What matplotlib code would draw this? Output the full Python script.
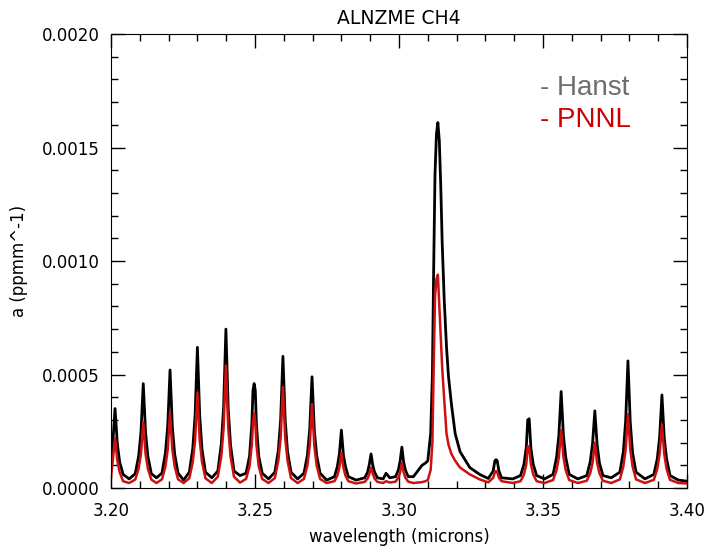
import numpy as np
import matplotlib
matplotlib.use('Agg')
import matplotlib.pyplot as plt
from matplotlib.ticker import MultipleLocator

# wavelength grid (microns), shared by both spectra
wl = [3.2000, 3.2006, 3.2014, 3.2022, 3.2030, 3.2042, 3.2063,
      3.2084, 3.2096, 3.2104, 3.2112, 3.2120, 3.2128, 3.2140, 3.2158,
      3.2177, 3.2189, 3.2197, 3.2205, 3.2213, 3.2221, 3.2233, 3.2252,
      3.2272, 3.2284, 3.2292, 3.2300, 3.2308, 3.2316, 3.2328, 3.2350,
      3.2371, 3.2383, 3.2391, 3.2399, 3.2407, 3.2415, 3.2427, 3.2448,
      3.2469, 3.2481, 3.2489, 3.2493, 3.2497, 3.2501, 3.2505, 3.2513, 3.2525, 3.2547,
      3.2569, 3.2581, 3.2589, 3.2597, 3.2605, 3.2613, 3.2625, 3.2648,
      3.2670, 3.2682, 3.2690, 3.2698, 3.2706, 3.2714, 3.2726, 3.2749,
      3.2776, 3.2786, 3.2793, 3.2800, 3.2807, 3.2814, 3.2824, 3.2851,
      3.2881, 3.2891, 3.2897, 3.2903, 3.2909, 3.2915, 3.2925,
      3.2945, 3.2955, 3.2968,
      3.2988, 3.2998, 3.3004, 3.3010, 3.3016, 3.3022, 3.3032,
      3.3050, 3.3080, 3.3092,
      3.3100, 3.3110, 3.3116, 3.3120, 3.3125, 3.3130, 3.3135, 3.3140, 3.3145,
      3.3150, 3.3157, 3.3165, 3.3172, 3.3182, 3.3195, 3.3212, 3.3246, 3.3280, 3.3310,
      3.3327, 3.3333, 3.3337, 3.3341, 3.3347, 3.3356, 3.3395,
      3.3422, 3.3434, 3.3442, 3.3447, 3.3452, 3.3458, 3.3466, 3.3478, 3.3505,
      3.3535, 3.3547, 3.3555, 3.3563, 3.3571, 3.3579, 3.3591, 3.3621,
      3.3652, 3.3664, 3.3672, 3.3680, 3.3688, 3.3696, 3.3708, 3.3737,
      3.3767, 3.3779, 3.3787, 3.3795, 3.3803, 3.3811, 3.3823, 3.3854,
      3.3885, 3.3897, 3.3905, 3.3913, 3.3921, 3.3929, 3.3941, 3.3970, 3.4000]

# absorption coefficients, units of 1e-4 ppmm^-1
hanst = [0.9, 1.95, 3.5, 1.95, 1.15, 0.6, 0.4,
         0.63, 1.4, 2.45, 4.6, 2.45, 1.4, 0.63, 0.45,
         0.66, 1.55, 2.75, 5.2, 2.7, 1.5, 0.65, 0.35,
         0.7, 1.75, 3.2, 6.2, 3.2, 1.7, 0.7, 0.45,
         0.75, 1.95, 3.55, 7.0, 3.5, 1.9, 0.75, 0.55,
         0.65, 1.4, 2.8, 4.3, 4.6, 4.3, 2.8, 1.4, 0.65, 0.4,
         0.7, 1.65, 3.0, 5.8, 2.95, 1.6, 0.7, 0.4,
         0.65, 1.45, 2.6, 4.9, 2.55, 1.45, 0.65, 0.35,
         0.5, 0.95, 1.5, 2.55, 1.45, 0.95, 0.5, 0.35,
         0.45, 0.7, 1.05, 1.5, 1.0, 0.7, 0.45,
         0.4, 0.65, 0.45,
         0.5, 0.8, 1.2, 1.8, 1.15, 0.8, 0.5,
         0.5, 1.0, 1.1,
         1.2, 2.4, 5.0, 9.3, 13.8, 15.6, 16.1, 15.3, 13.3,
         10.8, 8.3, 6.2, 4.9, 3.7, 2.4, 1.6, 0.9, 0.6, 0.42,
         0.75, 1.2, 1.25, 1.2, 0.75, 0.45, 0.4,
         0.55, 1.05, 1.8, 3.0, 3.05, 1.75, 1.05, 0.55, 0.4,
         0.6, 1.35, 2.3, 4.25, 2.3, 1.35, 0.6, 0.4,
         0.55, 1.15, 1.95, 3.4, 1.9, 1.1, 0.55, 0.45,
         0.7, 1.6, 2.95, 5.6, 2.9, 1.55, 0.7, 0.4,
         0.6, 1.3, 2.25, 4.1, 2.2, 1.3, 0.55, 0.35, 0.3]

pnnl = [0.45, 1.2, 2.2, 1.2, 0.7, 0.3, 0.22,
        0.37, 0.85, 1.5, 2.9, 1.5, 0.85, 0.37, 0.22,
        0.38, 0.95, 1.7, 3.3, 1.7, 0.95, 0.38, 0.22,
        0.43, 1.15, 2.1, 4.2, 2.1, 1.15, 0.43, 0.22,
        0.5, 1.4, 2.65, 5.4, 2.65, 1.4, 0.5, 0.24,
        0.4, 0.95, 1.9, 2.9, 3.3, 2.9, 1.9, 0.95, 0.4, 0.22,
        0.44, 1.2, 2.2, 4.45, 2.2, 1.2, 0.44, 0.22,
        0.4, 1.0, 1.85, 3.7, 1.85, 1.0, 0.4, 0.22,
        0.3, 0.55, 0.9, 1.55, 0.9, 0.55, 0.3, 0.2,
        0.27, 0.42, 0.62, 0.9, 0.62, 0.42, 0.27,
        0.22, 0.3, 0.24,
        0.28, 0.46, 0.7, 1.1, 0.7, 0.46, 0.28,
        0.22, 0.26, 0.3,
        0.35, 0.8, 2.0, 5.0, 8.4, 9.2, 9.4, 8.0, 6.6,
        5.3, 3.9, 2.4, 1.9, 1.5, 1.2, 0.9, 0.6, 0.38, 0.25,
        0.45, 0.7, 0.75, 0.7, 0.45, 0.3, 0.22,
        0.3, 0.6, 1.05, 1.85, 1.8, 1.05, 0.6, 0.3, 0.22,
        0.35, 0.78, 1.35, 2.55, 1.35, 0.78, 0.35, 0.22,
        0.32, 0.65, 1.1, 2.0, 1.1, 0.65, 0.32, 0.22,
        0.38, 0.95, 1.7, 3.25, 1.7, 0.95, 0.38, 0.22,
        0.36, 0.85, 1.5, 2.8, 1.5, 0.85, 0.36, 0.22, 0.2]

wl = np.array(wl)
hanst = np.array(hanst) * 1e-4
pnnl = np.array(pnnl) * 1e-4

fig = plt.figure(figsize=(7.07, 5.46), dpi=100)
ax = fig.add_axes([0.157, 0.1062, 0.8147, 0.8315])

ax.plot(wl, hanst, color='black', lw=2.0)
ax.plot(wl, pnnl, color='#cc1111', lw=1.8)

ax.set_xlim(3.20, 3.40)
ax.set_ylim(0, 0.0020)
ax.xaxis.set_major_locator(MultipleLocator(0.05))
ax.xaxis.set_minor_locator(MultipleLocator(0.01))
ax.yaxis.set_major_locator(MultipleLocator(0.0005))
ax.yaxis.set_minor_locator(MultipleLocator(0.0001))
ax.xaxis.set_major_formatter(plt.FormatStrFormatter('%.2f'))
ax.yaxis.set_major_formatter(plt.FormatStrFormatter('%.4f'))
ax.tick_params(which='both', direction='in', top=True, right=True, labelsize=12)
ax.tick_params(which='major', length=10, width=1)
ax.tick_params(which='minor', length=5, width=1)
ax.tick_params(axis='x', pad=10)
ax.tick_params(axis='y', pad=8)

ax.set_title('ALNZME CH4', fontsize=13.5, pad=7)
ax.set_xlabel('wavelength (microns)', fontsize=12, labelpad=6)
ax.set_ylabel('a (ppmm^-1)', fontsize=12, labelpad=10)

ax.text(0.745, 0.866, '- Hanst', transform=ax.transAxes, fontsize=20,
        color='#6e6e6e', family='Liberation Sans', va='baseline')
ax.text(0.745, 0.795, '- PNNL', transform=ax.transAxes, fontsize=20,
        color='#cc0000', family='Liberation Sans', va='baseline')

fig.savefig('out.png', dpi=100)
